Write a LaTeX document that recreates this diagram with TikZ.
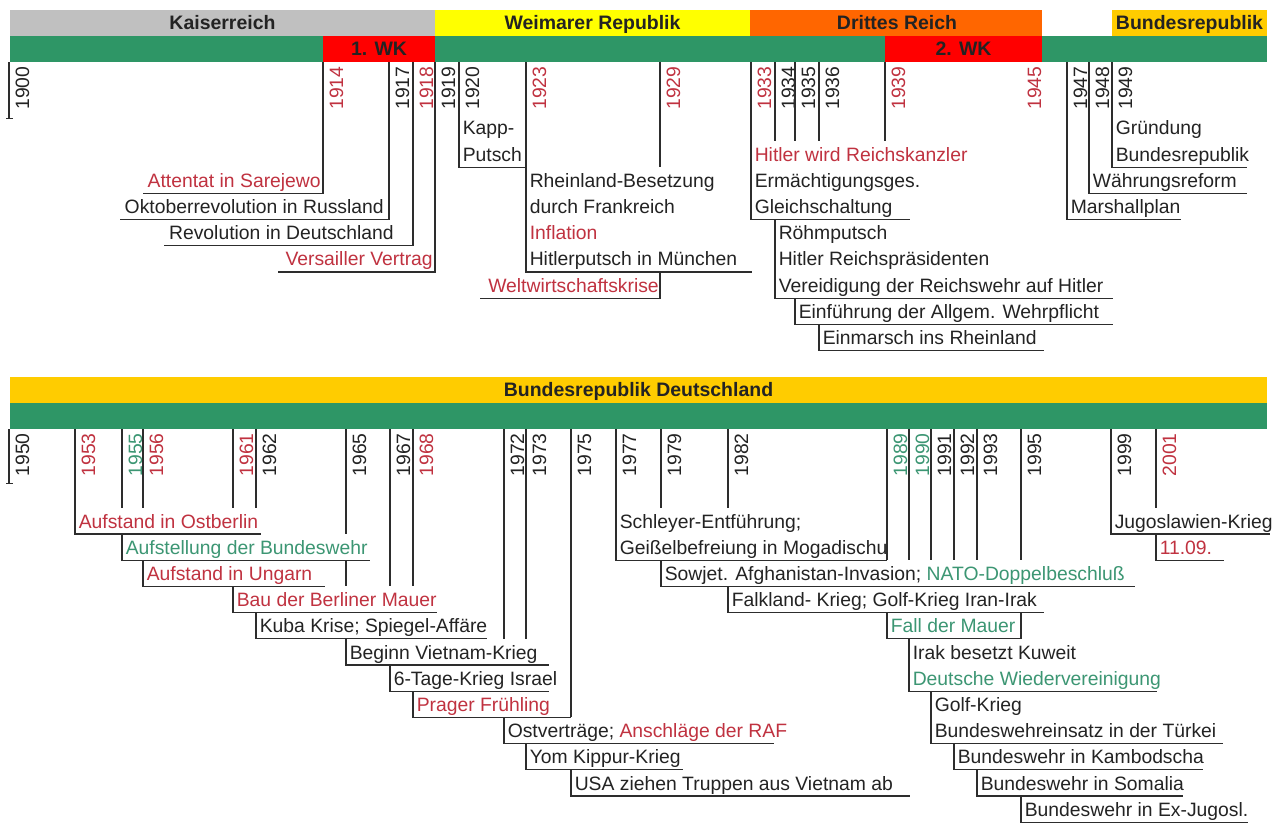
\documentclass[tikz,border=0pt]{standalone}
\usepackage{fontspec}
\setmainfont{Liberation Sans}
\definecolor{ink}{RGB}{35,35,35}
\definecolor{lc}{RGB}{45,45,45}
\definecolor{tred}{RGB}{192,50,64}
\definecolor{tteal}{RGB}{60,150,115}
\definecolor{bgreen}{RGB}{46,150,102}
\definecolor{bgray}{RGB}{192,192,192}
\definecolor{byellow}{RGB}{255,255,0}
\definecolor{borange}{RGB}{255,102,0}
\definecolor{bred}{RGB}{255,0,0}
\definecolor{bgold}{RGB}{255,204,0}
\newcommand\fs{\fontsize{14.5pt}{17pt}\selectfont}
\newcommand\fb{\fontsize{14.6pt}{17pt}\selectfont\bfseries}
\begin{document}
\begin{tikzpicture}[x=0.75pt,y=-0.75pt,
  declare function={rowy(\n)=10+26.2*\n;},
  tl/.style={draw=lc,line width=1pt,line join=miter},
  yl/.style={rotate=90,anchor=base east,inner sep=0pt,font=\fs},
  evr/.style={anchor=base west,inner sep=0pt,font=\fs,text=ink},
  evl/.style={anchor=base east,inner sep=0pt,font=\fs,text=ink},
  barlbl/.style={anchor=base,inner sep=0pt,font=\fb,text=ink}]
\useasboundingbox (0,0) rectangle (1282,834);
\fill[white] (0,0) rectangle (1282,834);

% ---- upper band: eras and wars
\fill[bgray]   (10,{rowy(0)})   rectangle (435,{rowy(1)});
\fill[byellow] (435,{rowy(0)})  rectangle (750,{rowy(1)});
\fill[borange] (750,{rowy(0)})  rectangle (1042,{rowy(1)});
\fill[bgold]   (1112,{rowy(0)}) rectangle (1267,{rowy(1)});
\fill[bgreen]  (10,{rowy(1)})   rectangle (1267,{rowy(2)});
\fill[bred]    (323,{rowy(1)})  rectangle (435,{rowy(2)});
\fill[bred]    (885,{rowy(1)})  rectangle (1042,{rowy(2)});
\node[barlbl] (kaiser) at (222.5,{rowy(1)-6.5}) {Kaiserreich};
\node[barlbl] (weimar) at (592.5,{rowy(1)-6.5}) {Weimarer Republik};
\node[barlbl] (drittes) at (897,{rowy(1)-6.5}) {Drittes Reich};
\node[barlbl] (brd) at (1189.5,{rowy(1)-6.5}) {Bundesrepublik};
\node[barlbl] (wk1) at (379,{rowy(2)-6.5}) {1. WK};
\node[barlbl] (wk2) at (963.5,{rowy(2)-6.5}) {2. WK};

% ---- lower band
\fill[bgold]  (10,{rowy(14)}) rectangle (1267,{rowy(15)});
\fill[bgreen] (10,{rowy(15)}) rectangle (1267,{rowy(16)});
\node[barlbl] (brdd) at (638.5,{rowy(15)-6.5}) {Bundesrepublik Deutschland};

% ---- year labels
\foreach \x/\yy/\c in {9/1900/ink,323/1914/tred,389/1917/ink,413/1918/tred,
  435/1919/ink,459/1920/ink,526/1923/tred,660/1929/tred,751/1933/tred,
  775/1934/ink,795/1935/ink,819/1936/ink,885/1939/tred,1021/1945/tred,
  1067/1947/ink,1089/1948/ink,1112/1949/ink}
  \node[yl,text=\c] (y\yy) at ({\x+20},{rowy(2)+4}) {\yy};
\foreach \x/\yy/\c in {9/1950/ink,75/1953/tred,122/1955/tteal,143/1956/tred,
  233/1961/tred,256/1962/ink,346/1965/ink,390/1967/ink,413/1968/tred,
  504/1972/ink,526/1973/ink,571/1975/ink,616/1977/ink,661/1979/ink,
  728/1982/ink,887/1989/tteal,909/1990/tteal,931/1991/ink,954/1992/ink,
  977/1993/ink,1021/1995/ink,1111/1999/ink,1156/2001/tred}
  \node[yl,text=\c] (y\yy) at ({\x+20},{rowy(16)+4}) {\yy};

% ---- event groups: id / year line x / line start row / box top row / underline row / far end
\foreach \id/\x/\a/\t/\b/\e in {
  1914/323/2/6/7/143, 1917/389/2/7/8/120, 1918/413/2/8/9/164,
  1919/435/2/9/10/278, 1920/459/2/4/6/526, 1923/526/2/6/10/752,
  1929/660/2/10/11/480, 1933/751/2/5/8/910, 1934/775/2/8/11/1113,
  1935/795/2/11/12/1113, 1936/819/2/12/13/1044, 1947/1067/2/7/8/1181,
  1948/1089/2/6/7/1247, 1949/1112/2/4/6/1247,
  1953/75/16/19/20/261, 1955/122/16/20/21/370, 1956/143/16/21/22/325,
  1961/233/16/22/23/437, 1962/256/16/23/24/487, 1965/346/16/24/25/549,
  1967/390/16/25/26/549, 1968/413/16/26/27/571, 1972/504/16/27/28/774,
  1973/526/16/28/29/683, 1975/571/16/29/30/910, 1977/616/16/19/21/887,
  1979/661/16/21/22/1135, 1982/728/16/22/23/1044, 1989/887/16/23/24/1021,
  1990/909/16/24/26/1157, 1991/931/16/26/28/1223, 1992/954/16/28/29/1203,
  1993/977/16/29/30/1183, 1995/1021/16/30/31/1248, 1999/1111/16/19/20/1270,
  2001/1156/16/20/21/1224}{
  \coordinate (s\id) at (\x,{rowy(\a)});
  \coordinate (h\id) at (\x,{rowy(\t)});
  \coordinate (k\id) at (\x,{rowy(\b)});
  \coordinate (u\id) at (\e,{rowy(\b)});
  \coordinate (f\id) at ({\e-1},{rowy(\t)});
}
\def\grplist{1914,1917,1918,1919,1920,1923,1929,1933,1934,1935,1936,1947,1948,1949,
  1953,1955,1956,1961,1962,1965,1967,1968,1972,1973,1975,1977,1979,1982,1989,
  1990,1991,1992,1993,1995,1999,2001}

% year lines running down from the bar
\foreach \id in \grplist \draw[tl] (s\id) -- (k\id);
\coordinate (s1900) at (9,{rowy(2)});  \coordinate (k1900) at (9,{rowy(4)+4});
\coordinate (s1950) at (9,{rowy(16)}); \coordinate (k1950) at (9,{rowy(18)+2});
\coordinate (s1939) at (885,{rowy(2)}); \coordinate (k1939) at (885,{rowy(5)});
\draw[tl] (s1900) -- (k1900) ++(-3,0) -- ++(7,0);
\draw[tl] (s1950) -- (k1950) ++(-3,0) -- ++(7,0);
\draw[tl] (s1939) -- (k1939);

% label cells are opaque
\foreach \id in \grplist \fill[white] (k\id) rectangle (f\id);

% brackets: own year line inside the cell and the underline
\foreach \id in \grplist \draw[tl] (h\id) -- (k\id) -- (u\id);

% ---- event texts, upper band
\node[evl,text=tred] (e1914) at (321,{rowy(7)-6}) {Attentat in Sarejewo};
\node[evl] (e1917) at (384,{rowy(8)-6}) {Oktoberrevolution in Russland};
\node[evl] (e1918) at (394,{rowy(9)-6}) {Revolution in Deutschland};
\node[evl,text=tred] (e1919) at (433,{rowy(10)-6}) {Versailler Vertrag};
\node[evr] (e1920a) at (462.5,{rowy(5)-6}) {Kapp-};
\node[evr] (e1920b) at (462.5,{rowy(6)-6}) {Putsch};
\node[evr] (e1923a) at (529.5,{rowy(7)-6}) {Rheinland-Besetzung};
\node[evr] (e1923b) at (529.5,{rowy(8)-6}) {durch Frankreich};
\node[evr,text=tred] (e1923c) at (529.5,{rowy(9)-6}) {Inflation};
\node[evr] (e1923d) at (529.5,{rowy(10)-6}) {Hitlerputsch in München};
\node[evl,text=tred] (e1929) at (659,{rowy(11)-6}) {Weltwirtschaftskrise};
\node[evr,text=tred] (e1933a) at (754.5,{rowy(6)-6}) {Hitler wird Reichskanzler};
\node[evr] (e1933b) at (754.5,{rowy(7)-6}) {Ermächtigungsges.};
\node[evr] (e1933c) at (754.5,{rowy(8)-6}) {Gleichschaltung};
\node[evr] (e1934a) at (778.5,{rowy(9)-6}) {Röhmputsch};
\node[evr] (e1934b) at (778.5,{rowy(10)-6}) {Hitler Reichspräsidenten};
\node[evr] (e1934c) at (778.5,{rowy(11)-6}) {Vereidigung der Reichswehr auf Hitler};
\node[evr] (e1935) at (798.5,{rowy(12)-6}) {Einführung der Allgem. Wehrpflicht};
\node[evr] (e1936) at (822.5,{rowy(13)-6}) {Einmarsch ins Rheinland};
\node[evr] (e1949a) at (1115.5,{rowy(5)-6}) {Gründung};
\node[evr] (e1949b) at (1115.5,{rowy(6)-6}) {Bundesrepublik};
\node[evr] (e1948) at (1092.5,{rowy(7)-6}) {Währungsreform};
\node[evr] (e1947) at (1070.5,{rowy(8)-6}) {Marshallplan};

% ---- event texts, lower band
\node[evr,text=tred] (e1953) at (78.5,{rowy(20)-6}) {Aufstand in Ostberlin};
\node[evr,text=tteal] (e1955) at (125.5,{rowy(21)-6}) {Aufstellung der Bundeswehr};
\node[evr,text=tred] (e1956) at (146.5,{rowy(22)-6}) {Aufstand in Ungarn};
\node[evr,text=tred] (e1961) at (236.5,{rowy(23)-6}) {Bau der Berliner Mauer};
\node[evr] (e1962) at (259.5,{rowy(24)-6}) {Kuba Krise; Spiegel-Affäre};
\node[evr] (e1965) at (349.5,{rowy(25)-6}) {Beginn Vietnam-Krieg};
\node[evr] (e1967) at (393.5,{rowy(26)-6}) {6-Tage-Krieg Israel};
\node[evr,text=tred] (e1968) at (416.5,{rowy(27)-6}) {Prager Frühling};
\node[evr] (e1972) at (507.5,{rowy(28)-6}) {Ostverträge; \textcolor{tred}{Anschläge der RAF}};
\node[evr] (e1973) at (529.5,{rowy(29)-6}) {Yom Kippur-Krieg};
\node[evr] (e1975) at (574.5,{rowy(30)-6}) {USA ziehen Truppen aus Vietnam ab};
\node[evr] (e1977a) at (619.5,{rowy(20)-6}) {Schleyer-Entführung;};
\node[evr] (e1977b) at (619.5,{rowy(21)-6}) {Geißelbefreiung in Mogadischu};
\node[evr] (e1979) at (664.5,{rowy(22)-6}) {Sowjet. Afghanistan-Invasion; \textcolor{tteal}{NATO-Doppelbeschluß}};
\node[evr] (e1982) at (731.5,{rowy(23)-6}) {Falkland- Krieg; Golf-Krieg Iran-Irak};
\node[evr,text=tteal] (e1989) at (890.5,{rowy(24)-6}) {Fall der Mauer};
\node[evr] (e1990a) at (912.5,{rowy(25)-6}) {Irak besetzt Kuweit};
\node[evr,text=tteal] (e1990b) at (912.5,{rowy(26)-6}) {Deutsche Wiedervereinigung};
\node[evr] (e1991a) at (934.5,{rowy(27)-6}) {Golf-Krieg};
\node[evr] (e1991b) at (934.5,{rowy(28)-6}) {Bundeswehreinsatz in der Türkei};
\node[evr] (e1992) at (957.5,{rowy(29)-6}) {Bundeswehr in Kambodscha};
\node[evr] (e1993) at (980.5,{rowy(30)-6}) {Bundeswehr in Somalia};
\node[evr] (e1995) at (1024.5,{rowy(31)-6}) {Bundeswehr in Ex-Jugosl.};
\node[evr] (e1999) at (1114.5,{rowy(20)-6}) {Jugoslawien-Krieg};
\node[evr,text=tred] (e2001) at (1159.5,{rowy(21)-6}) {11.09.};
\end{tikzpicture}
\end{document}
